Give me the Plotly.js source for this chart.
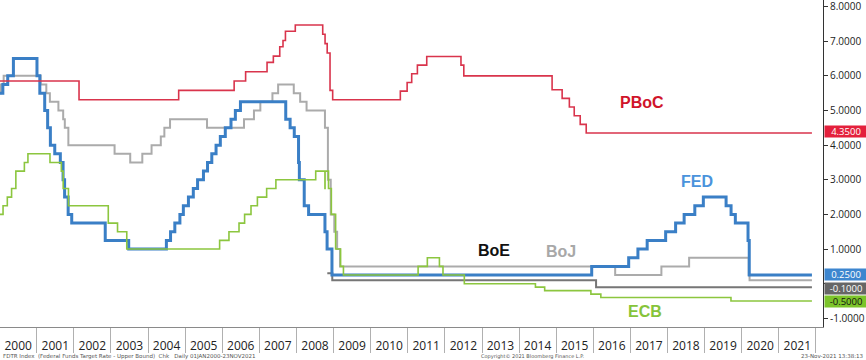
<!DOCTYPE html>
<html>
<head>
<meta charset="utf-8">
<script src="https://cdn.plot.ly/plotly-3.0.1.min.js"></script>
<style>
html,body{margin:0;padding:0;background:#fff;}
#chart{width:866px;height:360px;}
</style>
</head>
<body>
<div id="chart"></div>
<script>
// ---- Data (step series) ----
const yearLabels = ['2000','2001','2002','2003','2004','2005','2006','2007','2008','2009','2010',
  '2011','2012','2013','2014','2015','2016','2017','2018','2019','2020','2021'];

const fedDates = ['2000-01-01','2000-02-02','2000-03-21','2000-05-16','2001-01-03','2001-01-31','2001-03-20',
  '2001-04-18','2001-05-15','2001-06-27','2001-08-21','2001-09-17','2001-10-02','2001-11-06','2001-12-11',
  '2002-11-06','2003-06-25','2004-06-30','2004-08-10','2004-09-21','2004-11-10','2004-12-14','2005-02-02',
  '2005-03-22','2005-05-03','2005-06-30','2005-08-09','2005-09-20','2005-11-01','2005-12-13','2006-01-31',
  '2006-03-28','2006-05-10','2006-06-29','2007-09-18','2007-10-31','2007-12-11','2008-01-22','2008-01-30',
  '2008-03-18','2008-04-30','2008-10-08','2008-10-29','2008-12-16','2015-12-17','2016-12-15','2017-03-16',
  '2017-06-15','2017-12-14','2018-03-22','2018-06-14','2018-09-27','2018-12-20','2019-08-01','2019-09-19',
  '2019-10-31','2020-03-04','2020-03-16','2021-11-23'];
const fedValues = [5.5,5.75,6.0,6.5,6.0,5.5,5.0,4.5,4.0,3.75,3.5,3.0,2.5,2.0,1.75,1.25,1.0,1.25,1.5,1.75,2.0,
  2.25,2.5,2.75,3.0,3.25,3.5,3.75,4.0,4.25,4.5,4.75,5.0,5.25,4.75,4.5,4.25,3.5,3.0,2.25,2.0,1.5,1.0,0.25,
  0.5,0.75,1.0,1.25,1.5,1.75,2.0,2.25,2.5,2.25,2.0,1.75,1.25,0.25,0.25];

const pbocDates = ['2000-01-01','2002-02-21','2004-10-29','2006-04-28','2006-08-19','2007-03-18','2007-05-19',
  '2007-07-21','2007-08-22','2007-09-15','2007-12-21','2008-09-16','2008-10-09','2008-10-30','2008-11-27',
  '2008-12-23','2010-10-20','2010-12-26','2011-02-09','2011-04-06','2011-07-07','2012-06-08','2012-07-06',
  '2014-11-22','2015-03-01','2015-05-11','2015-06-28','2015-08-26','2015-10-24','2021-11-23'];
const pbocValues = [5.85,5.31,5.58,5.85,6.12,6.39,6.57,6.84,7.02,7.29,7.47,7.20,6.93,6.66,5.58,5.31,5.56,
  5.81,6.06,6.31,6.56,6.31,6.00,5.60,5.35,5.10,4.85,4.60,4.35,4.35];

const boeDates = ['2000-01-01','2000-01-13','2000-02-10','2001-02-08','2001-04-05','2001-05-10','2001-08-02',
  '2001-09-18','2001-10-04','2001-11-08','2003-02-06','2003-07-10','2003-11-06','2004-02-05','2004-05-06',
  '2004-06-10','2004-08-05','2005-08-04','2006-08-03','2006-11-09','2007-01-11','2007-05-10','2007-07-05',
  '2007-12-06','2008-02-07','2008-04-10','2008-10-08','2008-11-06','2008-12-04','2009-01-08','2009-02-05',
  '2009-03-05','2016-08-04','2017-11-02','2018-08-02','2020-03-11','2020-03-19','2021-11-23'];
const boeValues = [5.5,5.75,6.0,5.75,5.5,5.25,5.0,4.75,4.5,4.0,3.75,3.5,3.75,4.0,4.25,4.5,4.75,4.5,4.75,5.0,
  5.25,5.5,5.75,5.5,5.25,5.0,4.5,3.0,2.0,1.5,1.0,0.5,0.25,0.5,0.75,0.25,0.1,0.1];

const bojDates = ['2008-10-31','2008-12-19','2016-01-29','2021-11-23'];
const bojValues = [0.3,0.1,-0.1,-0.1];

const ecbDates = ['2000-01-01','2000-02-04','2000-03-17','2000-04-28','2000-06-09','2000-09-01','2000-10-06',
  '2001-05-11','2001-08-31','2001-09-18','2001-11-09','2002-12-06','2003-03-07','2003-06-06','2005-12-06',
  '2006-03-08','2006-06-15','2006-08-09','2006-10-11','2006-12-13','2007-03-14','2007-06-13','2008-07-09',
  '2008-10-08','2008-10-09','2008-11-12','2008-12-10','2009-01-21','2009-03-11','2009-04-08','2011-04-13',
  '2011-07-13','2011-11-09','2011-12-14','2012-07-11','2014-06-11','2014-09-10','2015-12-09','2016-03-16',
  '2019-09-18','2021-11-23'];
const ecbValues = [2.0,2.25,2.5,2.75,3.25,3.5,3.75,3.5,3.25,2.75,2.25,1.75,1.5,1.0,1.25,1.5,1.75,2.0,2.25,2.5,
  2.75,3.0,3.25,2.75,3.25,2.75,2.0,1.0,0.5,0.25,0.5,0.75,0.5,0.25,0.0,-0.1,-0.2,-0.3,-0.4,-0.5,-0.5];

const yTicks = [-1,0,1,2,3,4,5,6,7,8];
// the 0.0000 label sits under the value boxes in the reference, so it is left blank
const yTickText = ['-1.0000','','1.0000','2.0000','3.0000','4.0000','5.0000','6.0000','7.0000','8.0000'];

// ---- Styles ----
const C = {fed:'#3a7fc6', pboc:'#d9344c', boe:'#ababab', boj:'#767676', ecb:'#8cc63f'};

function step(x, y, color, width, name){
  return {type:'scatter', mode:'lines', x:x, y:y, name:name,
    line:{shape:'hv', color:color, width:width}, hoverinfo:'skip'};
}

const traces = [
  step(bojDates, bojValues, C.boj, 2, 'BoJ'),
  step(boeDates, boeValues, C.boe, 2, 'BoE'),
  step(fedDates, fedValues, C.fed, 3, 'FED'),
  step(ecbDates, ecbValues, C.ecb, 1.6, 'ECB'),
  step(pbocDates, pbocValues, C.pboc, 1.6, 'PBoC')
];

const last = a => a[a.length-1];
function valueBox(v, bg, fg, ys){
  return {xref:'paper', x:1, xanchor:'left', xshift:1, yref:'y', y:v, yanchor:'middle', yshift:ys,
    text:(v<0?'-':'')+Math.abs(v).toFixed(4), showarrow:false, bgcolor:bg, borderpad:0,
    height:11, width:42, align:'center', valign:'middle',
    font:{family:'Open Sans, sans-serif', size:9.5, color:fg}};
}
function label(x, y, text, color){
  return {xref:'x', yref:'y', x:x, y:y, text:'<b>'+text+'</b>', showarrow:false,
    xanchor:'center', yanchor:'middle',
    font:{family:'Liberation Sans, Arial, sans-serif', size:16, color:color}};
}
function foot(x, anchor, text, size){
  return {xref:'paper', yref:'paper', x:x, y:-0.09, xanchor:anchor, yanchor:'middle',
    text:text, showarrow:false, font:{family:'DejaVu Sans, sans-serif', size:size, color:'#555'}};
}

const layout = {
  width:866, height:360,
  margin:{l:0, r:43, t:0, b:33},
  paper_bgcolor:'#fff', plot_bgcolor:'#fff',
  showlegend:false,
  xaxis:{
    type:'date', range:['2000-01-05','2022-03-12'],
    showgrid:false, zeroline:false, showline:true, linecolor:'#8a8a8a', linewidth:1,
    tickmode:'array', tickvals:yearLabels.map(y=>y+'-07-02'), ticktext:yearLabels,
    ticks:'', ticklabelstandoff:8,
    tickfont:{family:'Open Sans, sans-serif', size:12, color:'#222'},
    minor:{ticks:'outside', ticklen:25, tickcolor:'#b0b0b0', tickwidth:1,
      tickmode:'linear', tick0:'2000-01-01', dtick:'M12', showgrid:false},
    fixedrange:true
  },
  yaxis:{
    side:'right', range:[-1.25, 8.19],
    showgrid:false, zeroline:false, showline:true, linecolor:'#333', linewidth:1,
    tickmode:'array', tickvals:yTicks, ticktext:yTickText,
    ticks:'outside', ticklen:4, tickcolor:'#333', ticklabeloverflow:'allow',
    tickfont:{family:'Open Sans, sans-serif', size:10, color:'#222'},
    fixedrange:true
  },
  annotations:[
    valueBox(last(pbocValues), '#e4203c', '#fff', 1.5),
    valueBox(last(fedValues), '#3d86cf', '#fff', 1),
    valueBox(last(bojValues), '#666666', '#fff', -1),
    valueBox(last(ecbValues), '#7cc42a', '#111', 0),
    label('2017-04-27', 5.22, 'PBoC', '#d0142a'),
    label('2018-10-19', 2.96, 'FED', '#4a93dc'),
    label('2013-05-01', 0.95, 'BoE', '#111'),
    label('2015-02-17', 0.94, 'BoJ', '#a8a8a8'),
    label('2017-05-26', -0.815, 'ECB', '#86c43a'),
    foot(0.001, 'left', 'FDTR Index  (Federal Funds Target Rate - Upper Bound)  Chk   Daily 01JAN2000-23NOV2021', 5.5),
    foot(0.582, 'left', 'Copyright© 2021 Bloomberg Finance L.P.', 5),
    foot(1.052, 'right', '23-Nov-2021 13:38:13', 5.5)
  ]
};

Plotly.newPlot('chart', traces, layout, {displayModeBar:false, staticPlot:true});
</script>
</body>
</html>
